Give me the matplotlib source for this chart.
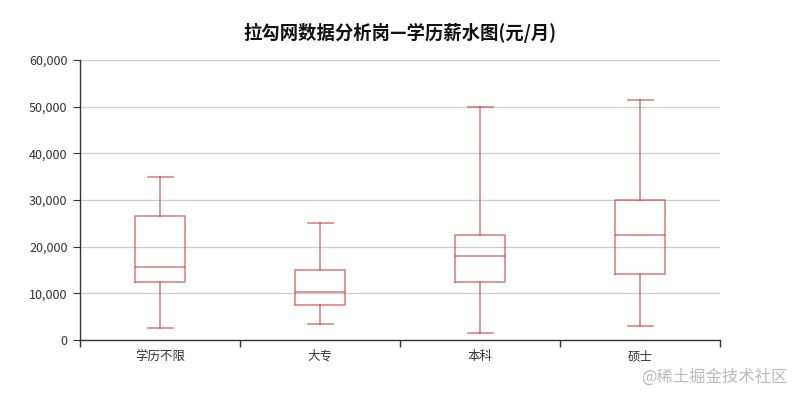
import matplotlib
matplotlib.use("Agg")
import matplotlib.pyplot as plt
from matplotlib.ticker import FuncFormatter, FixedLocator

plt.rcParams['font.family'] = ['Noto Sans CJK SC', 'DejaVu Sans']

categories = ['学历不限', '大专', '本科', '硕士']
whislo = [2500, 3500, 1500, 3000]
q1 = [12500, 7500, 12500, 14250]
med = [15750, 10250, 18000, 22500]
q3 = [26650, 15000, 22500, 30000]
whishi = [35000, 25000, 50000, 51500]

title = '拉勾网数据分析岗—学历薪水图(元/月)'
color = '#c23531'

fig = plt.figure(figsize=(8, 4), dpi=100)
ax = fig.add_axes([0.1, 0.15, 0.8, 0.7])

stats = []
for i, c in enumerate(categories):
    stats.append(dict(label=c, whislo=whislo[i], q1=q1[i], med=med[i],
                      q3=q3[i], whishi=whishi[i], fliers=[]))

lp = dict(color=color, linewidth=1.1, alpha=0.65)
ax.bxp(stats, positions=range(len(categories)), widths=0.3125,
       boxprops=lp, whiskerprops=lp, capprops=lp, medianprops=lp,
       showfliers=False, manage_ticks=False)

ax.set_xlim(-0.5, len(categories) - 0.5)
ax.set_ylim(0, 60000)
ax.set_yticks(range(0, 60001, 10000))
ax.yaxis.set_major_formatter(FuncFormatter(lambda v, p: f'{int(v):,}'))
ax.grid(axis='y', color='#cccccc', linewidth=0.9)
ax.set_axisbelow(True)

ax.set_xticks(range(len(categories)))
ax.set_xticklabels(categories)
ax.xaxis.set_minor_locator(FixedLocator([i - 0.5 for i in range(len(categories) + 1)]))
ax.tick_params(axis='x', which='major', length=0, pad=7, labelsize=9, labelcolor='#333333')
ax.tick_params(axis='x', which='minor', length=5, color='#333333', width=1)
ax.tick_params(axis='y', length=5, color='#333333', labelsize=9, labelcolor='#333333', pad=4)

for s in ['top', 'right']:
    ax.spines[s].set_visible(False)
for s in ['left', 'bottom']:
    ax.spines[s].set_color('#333333')
    ax.spines[s].set_linewidth(1)

fig.text(0.5, 0.918, title, ha='center', va='center', fontsize=13.2,
         fontweight='bold', color='#111111')
fig.text(0.985, 0.058, '@稀土掘金技术社区', ha='right', va='center', fontsize=11.8,
         color='#bbbbbb')

fig.savefig('out.png', dpi=100)
